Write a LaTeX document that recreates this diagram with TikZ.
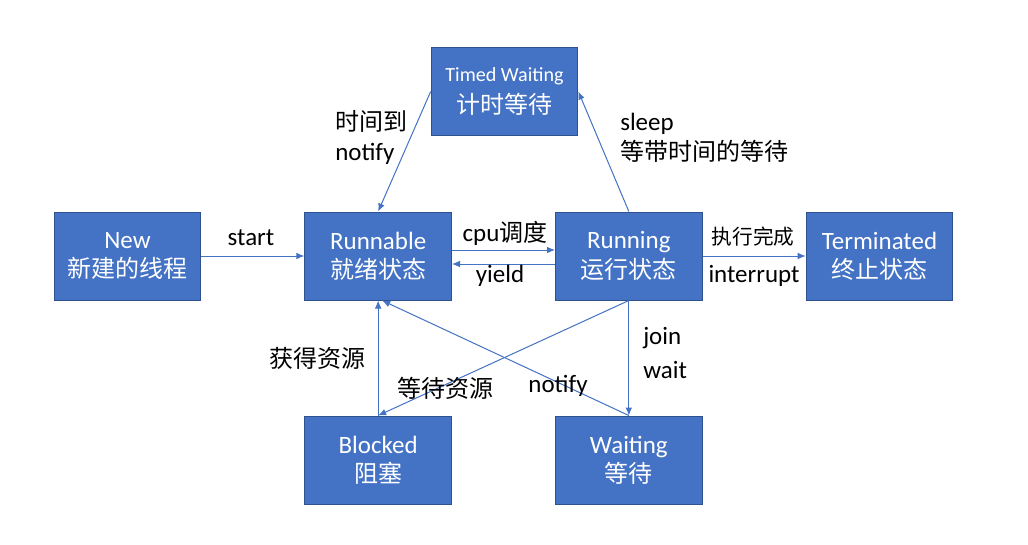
\documentclass[tikz,border=0pt]{standalone}
\usepackage{fontspec}
\setmainfont{Carlito}[Scale=1.04]
\newfontfamily\cjk{Noto Sans CJK SC}
\usepackage{xcolor}
\usepackage{tikz}
\usetikzlibrary{arrows.meta, positioning}
\definecolor{boxblue}{HTML}{4472C4}
\definecolor{boxline}{HTML}{2F528F}
\tikzset{
      state box/.style={
		fill=boxblue,
		draw=boxline,
		line width=0.75pt,
		minimum width=110pt,
		minimum height=66pt,
		inner sep=0pt,
		text=white,
		align=center,
		font=\fontsize{18}{22}\selectfont,
	  },
      trans/.style={
		draw=boxblue,
		line width=0.75pt,
		-{Latex[length=6pt,width=5pt]},
	  },
  		annotation/.style={
		inner sep=0pt,
		align=left,
		font=\fontsize{18}{22.5}\selectfont,
      }
  	}

\begin{document}
\begin{tikzpicture}[x=0.75pt, y=-0.75pt, node distance=86.25pt and 77.25pt]
    \useasboundingbox[fill=white] (0,0) rectangle (1028,544);
    % states
    \node [state box] at (127.5,256) (new) {New\\{\cjk 新建的线程}};
    \node [state box, right=of new] (runnable) {Runnable\\{\cjk 就绪状态}};
    \node [state box, right=of runnable] (running) {Running\\{\cjk 运行状态}};
    \node [state box, right=of running] (terminated) {Terminated\\{\cjk 终止状态}};
    \node [state box, below=of runnable] (blocked) {Blocked\\{\cjk 阻塞}};
    \node [state box, below=of running] (waiting) {Waiting\\{\cjk 等待}};
    \node [state box] at (504.5,91.5) (timed) {{\fontsize{14.5}{16}\selectfont Timed Waiting}\\[2pt]{\cjk 计时等待}};
    % transitions
    \draw [trans] (new) -- (runnable);
    \draw [trans] ([yshift=4.5pt]runnable.east) -- ([yshift=4.5pt]running.west);
    \draw [trans] ([yshift=-6pt]running.west) -- ([yshift=-6pt]runnable.east);
    \draw [trans] (running) -- (terminated);
    \draw [trans] (timed.west) -- (runnable.north);
    \draw [trans] (running.north) -- (timed.east);
    \draw [trans] (running.south) -- (waiting.north);
    \draw [trans] (running.south) -- (blocked.north);
    \draw [trans] (blocked.north) -- (runnable.south);
    \draw [trans] (waiting.north) -- ([xshift=3pt]runnable.south);
    % labels
    \node [annotation] at (251,238) (lstart) {start};
    \node [annotation] at (505,233) (lcpu) {cpu{\cjk 调度}};
    \node [annotation] at (500,276) (lyield) {yield};
    \node [annotation, font=\fontsize{15.5}{18}\selectfont] at (753,237) (ldone) {{\cjk 执行完成}};
    \node [annotation] at (754,276) (lintr) {interrupt};
    \node [annotation, anchor=west] at (335,137) (ltimeup) {{\cjk 时间到}\\notify};
    \node [annotation, anchor=west] at (620,138) (lsleep) {sleep\\{\cjk 等带时间的等待}};
    \node [annotation] at (317,358) (lget) {{\cjk 获得资源}};
    \node [annotation] at (445,388) (lres) {{\cjk 等待资源}};
    \node [annotation] at (558,386) (lnotify) {notify};
    \node [annotation, anchor=west] at (643,353) (ljoin) {join\\[3pt]wait};
  \end{tikzpicture}
\end{document}
